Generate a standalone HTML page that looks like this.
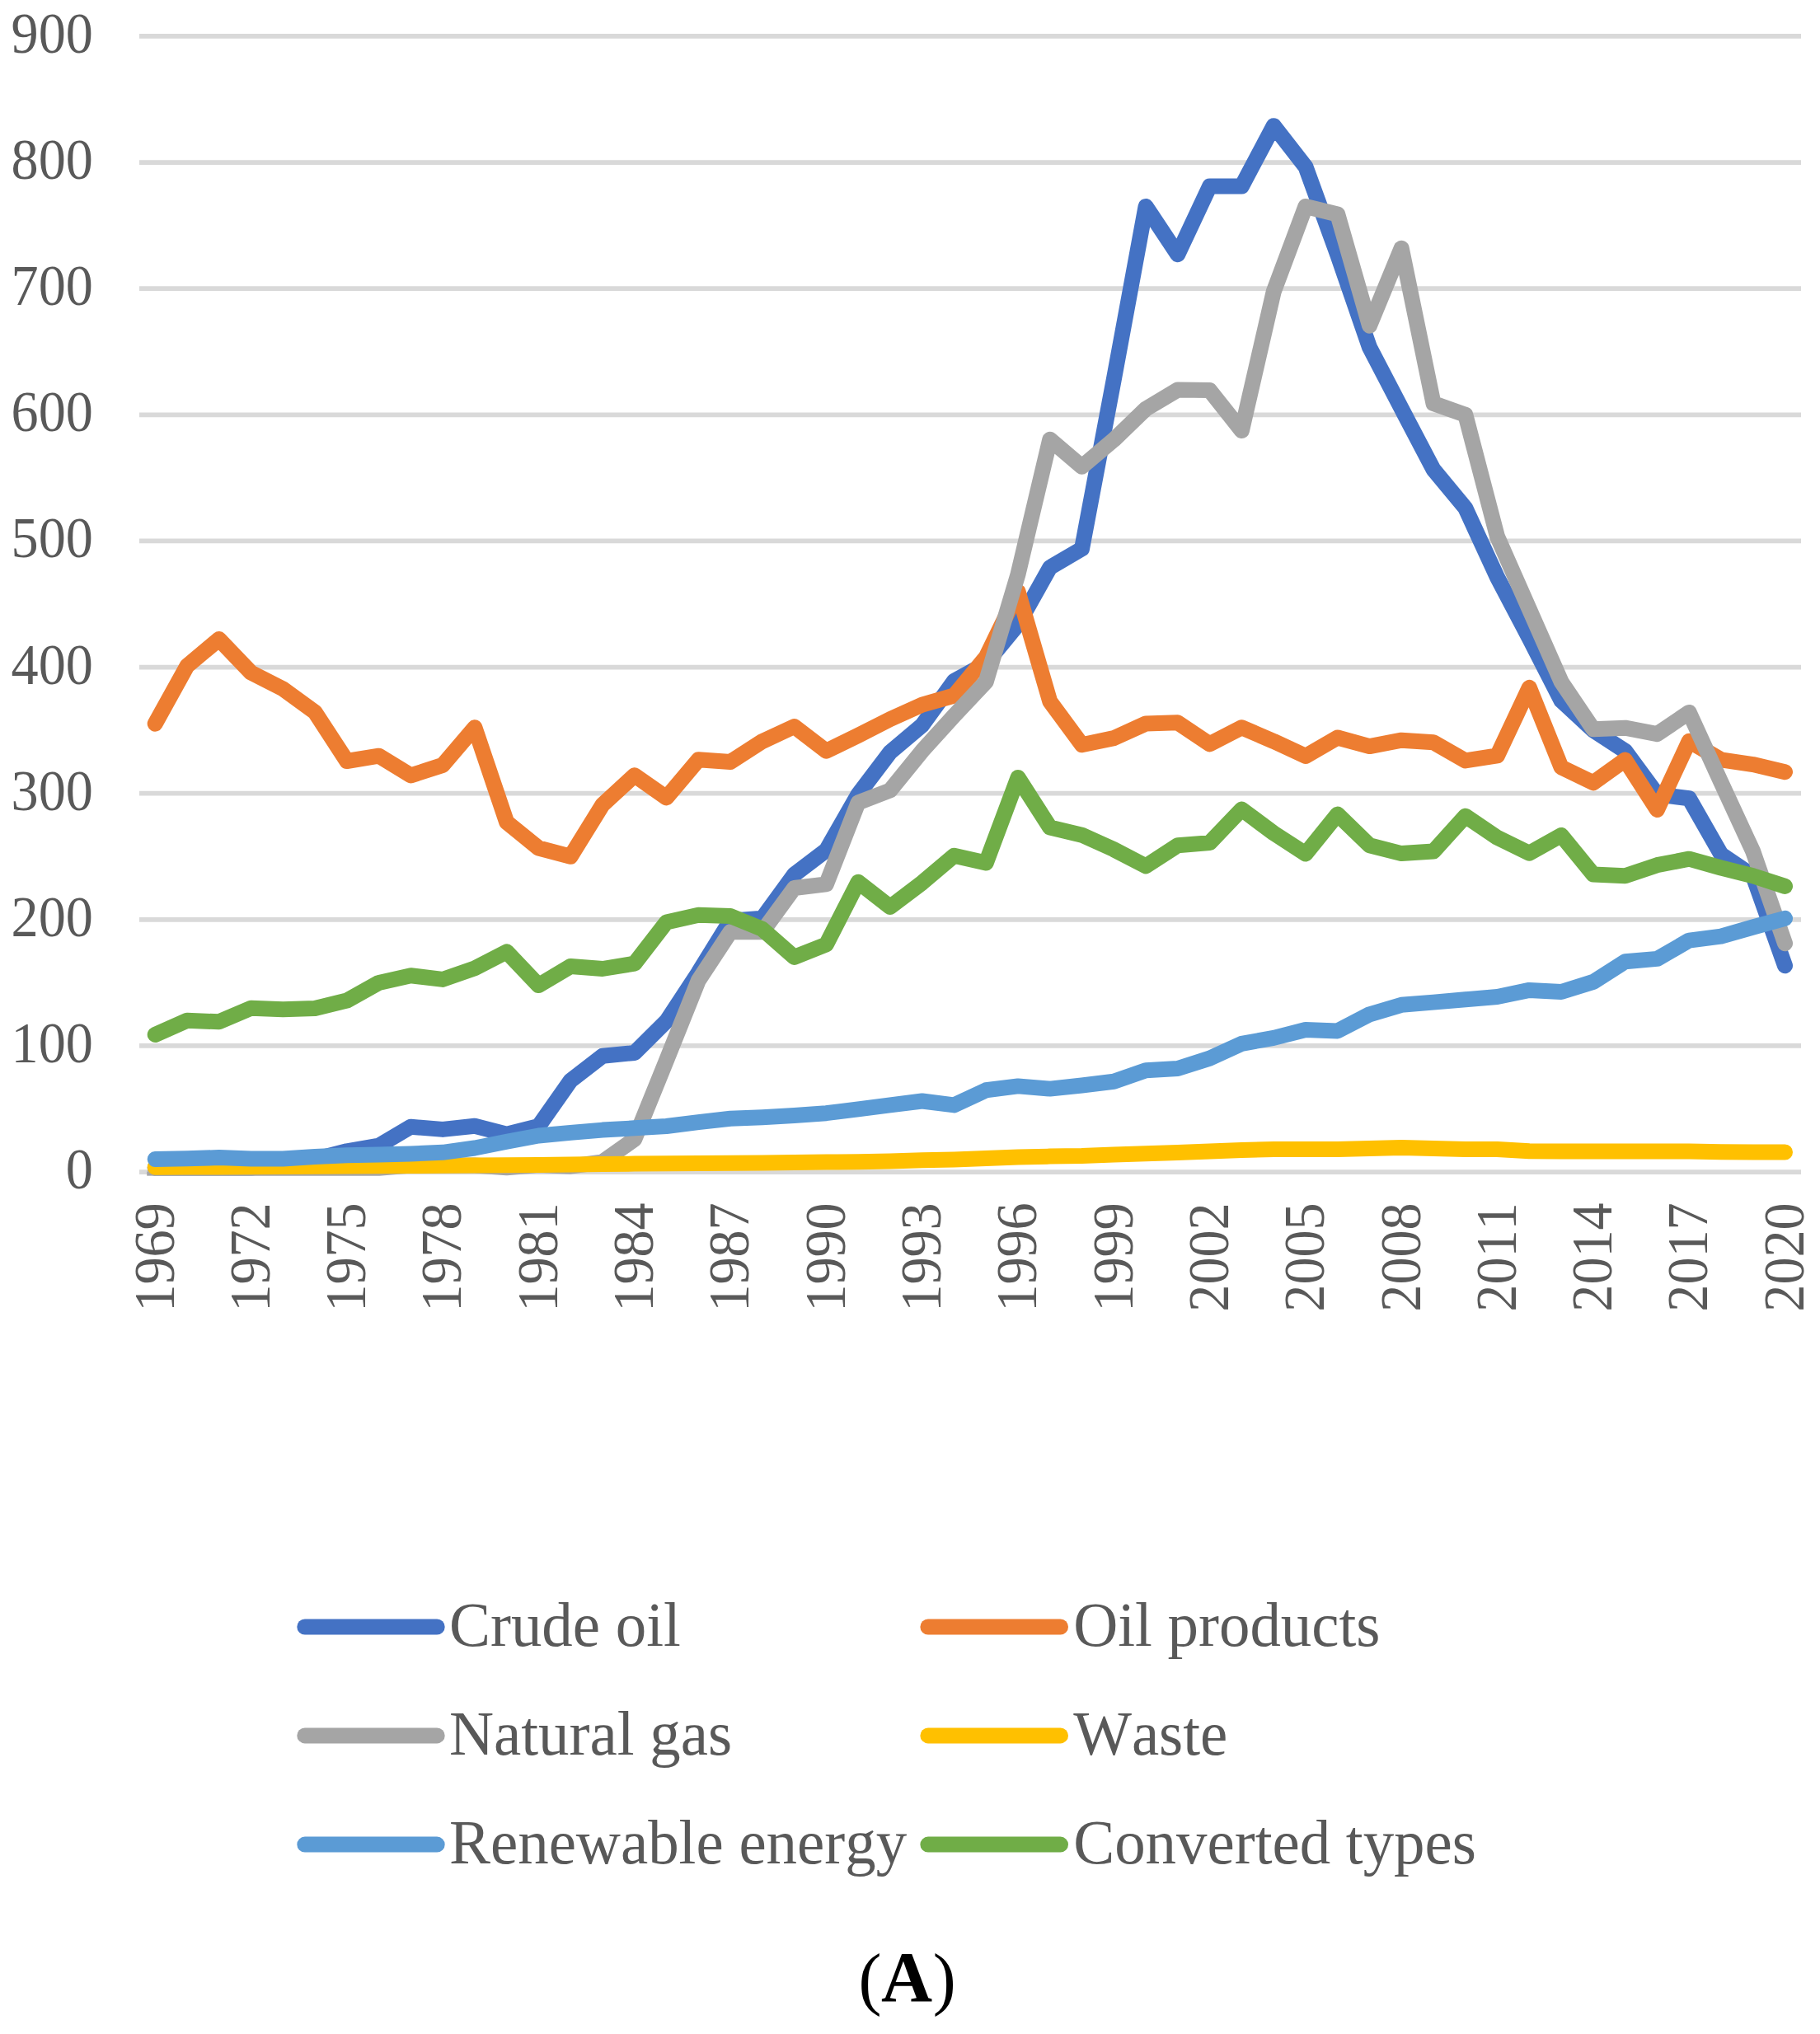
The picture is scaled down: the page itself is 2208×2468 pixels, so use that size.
<!DOCTYPE html>
<html lang="en"><head><meta charset="utf-8"><title>Chart A</title>
<style>html,body{margin:0;padding:0;background:#fff}svg{display:block}text{font-family:"Liberation Serif",serif;font-kerning:none}</style></head><body>
<svg width="2208" height="2468" viewBox="0 0 2208 2468">
<rect width="2208" height="2468" fill="#fff"/>
<g stroke="#D9D9D9" stroke-width="5.7">
<line x1="169.0" y1="1422.05" x2="2185.0" y2="1422.05"/>
<line x1="169.0" y1="1268.93" x2="2185.0" y2="1268.93"/>
<line x1="169.0" y1="1115.81" x2="2185.0" y2="1115.81"/>
<line x1="169.0" y1="962.68" x2="2185.0" y2="962.68"/>
<line x1="169.0" y1="809.56" x2="2185.0" y2="809.56"/>
<line x1="169.0" y1="656.44" x2="2185.0" y2="656.44"/>
<line x1="169.0" y1="503.32" x2="2185.0" y2="503.32"/>
<line x1="169.0" y1="350.20" x2="2185.0" y2="350.20"/>
<line x1="169.0" y1="197.07" x2="2185.0" y2="197.07"/>
<line x1="169.0" y1="43.95" x2="2185.0" y2="43.95"/>
</g>
<g fill="#595959" font-size="66.2" text-anchor="end">
<text transform="translate(112.85 1442.05) scale(1 1.054)">0</text>
<text transform="translate(112.85 1288.93) scale(1 1.054)">100</text>
<text transform="translate(112.85 1135.81) scale(1 1.054)">200</text>
<text transform="translate(112.85 982.68) scale(1 1.054)">300</text>
<text transform="translate(112.85 829.56) scale(1 1.054)">400</text>
<text transform="translate(112.85 676.44) scale(1 1.054)">500</text>
<text transform="translate(112.85 523.32) scale(1 1.054)">600</text>
<text transform="translate(112.85 370.20) scale(1 1.054)">700</text>
<text transform="translate(112.85 217.07) scale(1 1.054)">800</text>
<text transform="translate(112.85 63.95) scale(1 1.054)">900</text>
</g>
<g fill="#595959" font-size="66.2" text-anchor="end">
<text transform="translate(210.50 1459.3) rotate(-90) scale(1 1.054)">1969</text>
<text transform="translate(326.81 1459.3) rotate(-90) scale(1 1.054)">1972</text>
<text transform="translate(443.12 1459.3) rotate(-90) scale(1 1.054)">1975</text>
<text transform="translate(559.43 1459.3) rotate(-90) scale(1 1.054)">1978</text>
<text transform="translate(675.74 1459.3) rotate(-90) scale(1 1.054)">1981</text>
<text transform="translate(792.05 1459.3) rotate(-90) scale(1 1.054)">1984</text>
<text transform="translate(908.36 1459.3) rotate(-90) scale(1 1.054)">1987</text>
<text transform="translate(1024.67 1459.3) rotate(-90) scale(1 1.054)">1990</text>
<text transform="translate(1140.98 1459.3) rotate(-90) scale(1 1.054)">1993</text>
<text transform="translate(1257.29 1459.3) rotate(-90) scale(1 1.054)">1996</text>
<text transform="translate(1373.60 1459.3) rotate(-90) scale(1 1.054)">1999</text>
<text transform="translate(1489.91 1459.3) rotate(-90) scale(1 1.054)">2002</text>
<text transform="translate(1606.22 1459.3) rotate(-90) scale(1 1.054)">2005</text>
<text transform="translate(1722.53 1459.3) rotate(-90) scale(1 1.054)">2008</text>
<text transform="translate(1838.84 1459.3) rotate(-90) scale(1 1.054)">2011</text>
<text transform="translate(1955.15 1459.3) rotate(-90) scale(1 1.054)">2014</text>
<text transform="translate(2071.46 1459.3) rotate(-90) scale(1 1.054)">2017</text>
<text transform="translate(2187.77 1459.3) rotate(-90) scale(1 1.054)">2020</text>
</g>
<g fill="none" stroke-width="19.0" stroke-linecap="round" stroke-linejoin="round">
<polyline stroke="#4472C4" points="188.2,1417.0 227.0,1417.0 265.7,1417.0 304.5,1417.0 343.3,1412.9 382.1,1406.7 420.8,1396.8 459.6,1390.2 498.4,1367.2 537.1,1370.4 575.9,1366.2 614.7,1376.1 653.4,1366.5 692.2,1311.3 731.0,1281.2 769.8,1277.5 808.5,1239.1 847.3,1180.1 886.1,1117.3 924.8,1114.3 963.6,1061.1 1002.4,1031.6 1041.1,963.9 1079.9,912.8 1118.7,880.0 1157.5,826.4 1196.2,805.0 1235.0,757.8 1273.8,688.6 1312.5,665.9 1351.3,460.4 1390.1,250.4 1428.8,308.7 1467.6,226.0 1506.4,226.0 1545.2,152.7 1583.9,202.3 1622.7,308.9 1661.5,421.4 1700.2,495.7 1739.0,569.6 1777.8,616.5 1816.5,700.5 1855.3,774.3 1894.1,850.1 1932.9,886.1 1971.6,911.2 2010.4,963.9 2049.2,968.8 2087.9,1036.5 2126.7,1062.8 2165.5,1171.7"/>
<polyline stroke="#ED7D31" points="188.2,878.2 227.0,808.0 265.7,775.6 304.5,816.1 343.3,835.9 382.1,864.1 420.8,923.5 459.6,917.2 498.4,940.9 537.1,928.4 575.9,882.8 614.7,997.6 653.4,1029.0 692.2,1039.2 731.0,976.5 769.8,940.8 808.5,967.9 847.3,921.8 886.1,924.4 924.8,899.6 963.6,881.5 1002.4,911.2 1041.1,892.4 1079.9,872.6 1118.7,855.2 1157.5,844.0 1196.2,797.3 1235.0,717.7 1273.8,851.1 1312.5,903.7 1351.3,895.6 1390.1,878.0 1428.8,876.8 1467.6,902.8 1506.4,882.8 1545.2,899.4 1583.9,917.4 1622.7,895.0 1661.5,905.6 1700.2,898.2 1739.0,900.7 1777.8,922.9 1816.5,916.9 1855.3,834.4 1894.1,931.0 1932.9,949.8 1971.6,922.1 2010.4,982.4 2049.2,899.3 2087.9,921.8 2126.7,927.6 2165.5,936.7"/>
<polyline stroke="#A5A5A5" points="188.2,1417.2 227.0,1417.2 265.7,1417.2 304.5,1417.2 343.3,1417.2 382.1,1417.2 420.8,1417.2 459.6,1417.2 498.4,1414.1 537.1,1414.1 575.9,1414.1 614.7,1416.8 653.4,1413.6 692.2,1415.2 731.0,1409.8 769.8,1382.2 808.5,1286.7 847.3,1189.8 886.1,1130.7 924.8,1130.7 963.6,1077.5 1002.4,1072.9 1041.1,973.9 1079.9,959.0 1118.7,911.2 1157.5,868.4 1196.2,827.2 1235.0,696.9 1273.8,533.3 1312.5,566.3 1351.3,533.6 1390.1,496.1 1428.8,473.0 1467.6,473.6 1506.4,522.5 1545.2,353.9 1583.9,250.4 1622.7,259.9 1661.5,395.1 1700.2,301.2 1739.0,489.5 1777.8,503.3 1816.5,651.1 1855.3,739.1 1894.1,827.2 1932.9,884.7 1971.6,883.2 2010.4,890.7 2049.2,864.4 2087.9,949.1 2126.7,1033.1 2165.5,1144.7"/>
<rect x="178.2" y="1421.5" width="10" height="5.15" fill="#A5A5A5" stroke="none"/>
<polyline stroke="#FFC000" points="188.2,1416.3 227.0,1416.1 265.7,1415.9 304.5,1415.8 343.3,1415.5 382.1,1415.3 420.8,1415.0 459.6,1414.7 498.4,1414.5 537.1,1414.2 575.9,1414.1 614.7,1413.8 653.4,1413.6 692.2,1412.9 731.0,1412.6 769.8,1412.1 808.5,1411.8 847.3,1411.5 886.1,1411.2 924.8,1410.9 963.6,1410.4 1002.4,1410.1 1041.1,1409.8 1079.9,1408.9 1118.7,1407.8 1157.5,1406.9 1196.2,1405.5 1235.0,1404.1 1273.8,1403.1 1312.5,1402.6 1351.3,1401.1 1390.1,1399.7 1428.8,1398.5 1467.6,1397.1 1506.4,1395.4 1545.2,1394.5 1583.9,1394.5 1622.7,1394.5 1661.5,1393.4 1700.2,1392.5 1739.0,1393.4 1777.8,1394.5 1816.5,1394.5 1855.3,1396.8 1894.1,1397.1 1932.9,1397.1 1971.6,1397.1 2010.4,1397.1 2049.2,1397.1 2087.9,1397.7 2126.7,1398.0 2165.5,1398.0"/>
<polyline stroke="#5B9BD5" points="188.2,1406.6 227.0,1405.7 265.7,1404.6 304.5,1406.0 343.3,1406.0 382.1,1403.4 420.8,1401.7 459.6,1401.1 498.4,1400.0 537.1,1398.3 575.9,1393.0 614.7,1385.3 653.4,1378.0 692.2,1374.4 731.0,1371.1 769.8,1368.8 808.5,1366.5 847.3,1361.6 886.1,1357.3 924.8,1355.7 963.6,1353.5 1002.4,1350.7 1041.1,1345.8 1079.9,1340.9 1118.7,1336.0 1157.5,1340.9 1196.2,1322.8 1235.0,1317.9 1273.8,1321.1 1312.5,1317.0 1351.3,1312.3 1390.1,1298.8 1428.8,1296.5 1467.6,1284.1 1506.4,1266.3 1545.2,1259.4 1583.9,1249.5 1622.7,1250.9 1661.5,1230.8 1700.2,1219.3 1739.0,1216.1 1777.8,1212.7 1816.5,1209.5 1855.3,1201.4 1894.1,1203.5 1932.9,1191.4 1971.6,1166.8 2010.4,1163.4 2049.2,1141.1 2087.9,1136.2 2126.7,1125.0 2165.5,1114.3"/>
<polyline stroke="#70AD47" points="188.2,1255.5 227.0,1238.3 265.7,1239.8 304.5,1223.3 343.3,1224.8 382.1,1223.6 420.8,1214.1 459.6,1192.4 498.4,1183.8 537.1,1188.4 575.9,1174.9 614.7,1154.9 653.4,1195.6 692.2,1172.5 731.0,1175.5 769.8,1169.1 808.5,1119.0 847.3,1110.3 886.1,1111.5 924.8,1127.3 963.6,1161.4 1002.4,1146.0 1041.1,1070.2 1079.9,1100.5 1118.7,1071.1 1157.5,1038.2 1196.2,1047.1 1235.0,943.5 1273.8,1004.0 1312.5,1013.2 1351.3,1030.7 1390.1,1050.9 1428.8,1025.8 1467.6,1022.6 1506.4,982.0 1545.2,1010.9 1583.9,1036.0 1622.7,988.1 1661.5,1025.8 1700.2,1035.6 1739.0,1033.1 1777.8,990.2 1816.5,1016.3 1855.3,1035.3 1894.1,1013.4 1932.9,1061.1 1971.6,1062.8 2010.4,1049.7 2049.2,1042.2 2087.9,1053.0 2126.7,1062.8 2165.5,1075.4"/>
</g>
<g stroke-width="19.0" stroke-linecap="round" font-size="74.9">
<line x1="369.8" y1="1974.0" x2="530.2" y2="1974.0" stroke="#4472C4"/>
<text transform="translate(545.0 1997.1) scale(1 1.03)" fill="#595959">Crude oil</text>
<line x1="1125.9" y1="1974.0" x2="1286.5" y2="1974.0" stroke="#ED7D31"/>
<text transform="translate(1302.2 1997.1) scale(1 1.03)" fill="#595959">Oil products</text>
<line x1="369.8" y1="2105.9" x2="530.2" y2="2105.9" stroke="#A5A5A5"/>
<text transform="translate(545.0 2129.0) scale(1 1.03)" fill="#595959">Natural gas</text>
<line x1="1125.9" y1="2105.9" x2="1286.5" y2="2105.9" stroke="#FFC000"/>
<text transform="translate(1302.2 2129.0) scale(1 1.03)" fill="#595959">Waste</text>
<line x1="369.8" y1="2238.1" x2="530.2" y2="2238.1" stroke="#5B9BD5"/>
<text transform="translate(545.0 2261.2) scale(1 1.03)" fill="#595959">Renewable energy</text>
<line x1="1125.9" y1="2238.1" x2="1286.5" y2="2238.1" stroke="#70AD47"/>
<text transform="translate(1302.2 2261.2) scale(1 1.03)" fill="#595959">Converted types</text>
</g>
<g fill="#000"><text x="1041.4" y="2429" font-size="84">(</text><text x="1069" y="2428" font-size="86" font-weight="bold">A</text><text x="1131.8" y="2429" font-size="84">)</text></g>
</svg></body></html>
